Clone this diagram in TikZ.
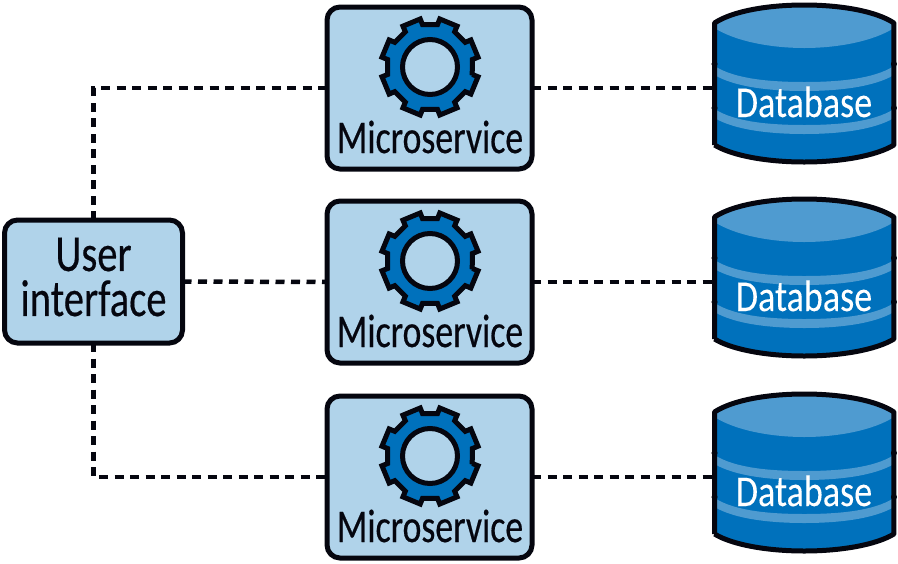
\documentclass[tikz,border=0pt]{standalone}
\usepackage{fontspec}
\newfontfamily\msfont[FakeStretch=0.76,FakeBold=0.35]{Carlito}
\newfontfamily\uifont[FakeStretch=0.78,FakeBold=0.35]{Carlito}
\newfontfamily\dbfont[FakeStretch=0.82,FakeBold=0.1]{Carlito}
\definecolor{boxfill}{HTML}{B0D3EA}
\definecolor{blue}{HTML}{0071BC}
\definecolor{lightblue}{HTML}{4F9BD0}
\definecolor{ink}{HTML}{05060F}
\tikzset{
  x=1pt,y=-1pt,
  box/.style={draw=ink,fill=boxfill,line width=5pt,rounded corners=13pt,inner sep=0pt,outer sep=0pt},
  link/.style={draw=ink,line width=4.5pt,dash pattern=on 9pt off 6.5pt},
  uilabel/.style={inner sep=0pt,outer sep=0pt,text=ink,font=\uifont\fontsize{52}{45}\selectfont,align=center},
  mslabel/.style={inner sep=0pt,outer sep=0pt,anchor=base,text=ink,font=\msfont\fontsize{47}{47}\selectfont},
  dblabel/.style={inner sep=0pt,outer sep=0pt,anchor=base,text=white,font=\dbfont\fontsize{44}{44}\selectfont},
  dbarea/.style={inner sep=0pt,outer sep=0pt,minimum width=179pt,minimum height=157pt},
  geararea/.style={inner sep=0pt,outer sep=0pt,minimum size=96pt},
  gearwheel/.pic={
    \draw[ink,fill=blue,line width=5pt,line join=miter]
      (11:43)
      \foreach \a in {22.5,67.5,...,337.5}{
        -- (\a-12.5:43) -- (\a-11:49) -- (\a+11:49) -- (\a+12.5:43)
      } -- cycle;
    \draw[ink,fill=boxfill,line width=5pt] (0,0) circle[radius=27.5];
  },
  dbdrum/.pic={
    \fill[blue] (2,20) .. controls (20,8) and (55,2) .. (91,2) .. controls (127,2) and (162,8) .. (180,20)
      -- (180,142) .. controls (162,153) and (127,159) .. (91,159) .. controls (55,159) and (20,153) .. (2,142) -- cycle;
    \fill[lightblue] (2,20) .. controls (20,8) and (55,2) .. (91,2) .. controls (127,2) and (162,8) .. (180,20)
      -- (180,25) .. controls (160,38) and (125,45) .. (91,45) .. controls (57,45) and (22,38) .. (2,25) -- cycle;
    \fill[lightblue] (2,63) .. controls (22,76) and (57,79) .. (91,79) .. controls (125,79) and (160,76) .. (180,63)
      -- (180,72) .. controls (160,84) and (125,88) .. (91,88) .. controls (57,88) and (22,84) .. (2,72) -- cycle;
    \fill[lightblue] (2,106) .. controls (22,119) and (57,122) .. (91,122) .. controls (125,122) and (160,119) .. (180,106)
      -- (180,115) .. controls (160,127) and (125,131) .. (91,131) .. controls (57,131) and (22,127) .. (2,115) -- cycle;
    \draw[ink,line width=5pt,line join=round] (2,142) -- (2,20) .. controls (20,8) and (55,2) .. (91,2) .. controls (127,2) and (162,8) .. (180,20)
      -- (180,142) .. controls (162,153) and (127,159) .. (91,159) .. controls (55,159) and (20,153) .. (2,142);
    \fill[ink] (2,61) circle[radius=3] (180,61) circle[radius=3] (2,105) circle[radius=3] (180,105) circle[radius=3];
  },
}
\begin{document}
\begin{tikzpicture}
\useasboundingbox (0,0) rectangle (898,563);
% user interface
\node[box,minimum width=178pt,minimum height=123pt] (ui) at (93.5,281.5) {};
\node[uilabel] (uitext) at (93.5,277) {User\\interface};
% microservices
\foreach \n/\y in {1/88,2/282,3/477}{
  \node[box,minimum width=205pt,minimum height=162pt] (ms\n) at (429.5,\y) {};
  \node[geararea] (gear\n) at (430,\y-21) {};
  \pic at (gear\n.center) {gearwheel};
  \node[mslabel] (mstext\n) at (430,\y+65) {Microservice};
}
% databases
\foreach \n/\y in {1/3,2/197,3/392}{
  \pic[xscale=1.008] at (712.5,\y) {dbdrum};
  \node[dbarea] (db\n) at (804,\y+80.5) {};
  \node[dblabel] (dbtext\n) at (804,\y+114) {Database};
}
% connectors
\draw[link] (ui.east) -- (ms2.west);
\draw[link] (ui.north) -- (ui.north |- ms1.west) -- (ms1.west);
\draw[link] (ui.south) -- (ui.south |- ms3.west) -- (ms3.west);
\foreach \n in {1,2,3}{
  \draw[link] (ms\n.east) -- (ms\n.east -| db\n.west);
}
\end{tikzpicture}
\end{document}
